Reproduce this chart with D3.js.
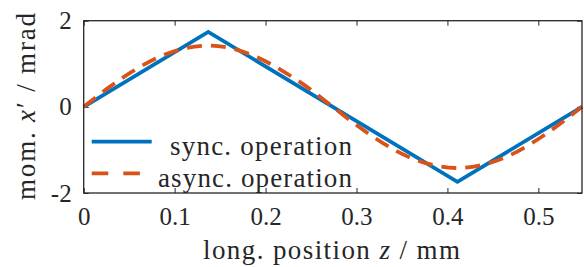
<!DOCTYPE html>
<html>
<head>
<meta charset="utf-8">
<script src="https://cdn.jsdelivr.net/npm/d3@7"></script>
<style>
  body { margin: 0; background: #fff; }
  text { font-family: "Liberation Serif", "DejaVu Serif", serif; fill: #262626; }
</style>
</head>
<body>
<div id="chart"></div>
<script>
// 数据
var syncZ = [0, 0.137, 0.411, 0.548]
var syncV = [0, 1.74, -1.74, 0]
var asyncZ = [0, 0.027, 0.055, 0.082, 0.110, 0.137, 0.164, 0.192, 0.219, 0.247, 0.274,
              0.301, 0.329, 0.356, 0.384, 0.411, 0.438, 0.466, 0.493, 0.521, 0.548]
var asyncV = [0, 0.44, 0.84, 1.15, 1.35, 1.42, 1.35, 1.14, 0.83, 0.44, 0.0,
              -0.44, -0.84, -1.15, -1.35, -1.42, -1.35, -1.15, -0.84, -0.44, 0]
var xTicks = [0, 0.1, 0.2, 0.3, 0.4, 0.5]
var yTicks = [-2, 0, 2]
var seriesNames = ['sync. operation', 'async. operation']
var seriesColors = ['#0072BD', '#D95319']

var W = 584, H = 267
var margin = {top: 20.7, right: 2, bottom: 74, left: 83.7}
var width = W - margin.left - margin.right
var height = H - margin.top - margin.bottom

var svg = d3.select('#chart').append('svg')
  .attr('width', W).attr('height', H)

var g = svg.append('g')
  .attr('transform', 'translate(' + margin.left + ',' + margin.top + ')')

var x = d3.scaleLinear().domain([0, 0.548]).range([0, width])
var y = d3.scaleLinear().domain([-2, 2]).range([height, 0])

// 坐标轴
function styleAxis(sel, showText) {
  sel.select('.domain').remove()
  sel.selectAll('.tick line').attr('stroke', '#262626').attr('stroke-width', 1)
  if (!showText) sel.selectAll('.tick text').remove()
  else sel.selectAll('.tick text').attr('font-size', '25px').attr('fill', '#262626')
}
g.append('g').attr('transform', 'translate(0,' + height + ')')
  .call(d3.axisBottom(x).tickValues(xTicks).tickSize(-5).tickPadding(14)
    .tickFormat(function(d) { return d === 0 ? '0' : d3.format('.1f')(d) }))
  .call(function(s) { styleAxis(s, true) })
  .selectAll('.tick text').attr('dy', '0.71em')
g.append('g')
  .call(d3.axisTop(x).tickValues(xTicks).tickSize(-5))
  .call(function(s) { styleAxis(s, false) })
g.append('g')
  .call(d3.axisLeft(y).tickValues(yTicks).tickSize(-5).tickPadding(12)
    .tickFormat(function(d) { return String(d) }))
  .call(function(s) { styleAxis(s, true) })
g.append('g').attr('transform', 'translate(' + width + ',0)')
  .call(d3.axisRight(y).tickValues(yTicks).tickSize(-5))
  .call(function(s) { styleAxis(s, false) })

// 折线
var line = d3.line()
  .x(function(d) { return x(d[0]) })
  .y(function(d) { return y(d[1]) })

g.append('path')
  .datum(syncZ.map(function(z, i) { return [z, syncV[i]] }))
  .attr('fill', 'none').attr('stroke', seriesColors[0])
  .attr('stroke-width', 3.8).attr('stroke-linejoin', 'miter')
  .attr('d', line)

g.append('path')
  .datum(asyncZ.map(function(z, i) { return [z, asyncV[i]] }))
  .attr('fill', 'none').attr('stroke', seriesColors[1])
  .attr('stroke-width', 3.8).attr('stroke-dasharray', '15,9')
  .attr('d', d3.line().curve(d3.curveMonotoneX)
    .x(function(d) { return x(d[0]) })
    .y(function(d) { return y(d[1]) }))

// 外框
g.append('rect')
  .attr('width', width).attr('height', height)
  .attr('fill', 'none').attr('stroke', '#262626').attr('stroke-width', 1.3)

// 图例
var legendWidths = [182, 194]
var legend = svg.append('g')
seriesNames.forEach(function(name, i) {
  var ly = 141.7 + i * 31.6
  legend.append('line')
    .attr('x1', 91.7).attr('x2', 151.7).attr('y1', ly).attr('y2', ly)
    .attr('stroke', seriesColors[i]).attr('stroke-width', 3.8)
    .attr('stroke-dasharray', i === 1 ? '16.6,15' : null)
  legend.append('text')
    .attr('x', 352 - legendWidths[i]).attr('y', ly + 5).attr('dy', '0.32em')
    .attr('font-size', '27px')
    .attr('textLength', legendWidths[i]).attr('lengthAdjust', 'spacing')
    .text(name)
})

// 轴标题
var xl = svg.append('text')
  .attr('x', 203).attr('y', 259)
  .attr('font-size', '27px')
  .attr('textLength', 257).attr('lengthAdjust', 'spacing')
xl.append('tspan').text('long. position ')
xl.append('tspan').attr('font-style', 'italic').text('z')
xl.append('tspan').text(' / mm')

var yl = svg.append('text')
  .attr('transform', 'translate(35,200) rotate(-90)')
  .attr('font-size', '27px')
  .attr('textLength', 187).attr('lengthAdjust', 'spacing')
yl.append('tspan').text('mom. ')
yl.append('tspan').attr('font-style', 'italic').text('x')
yl.append('tspan').text('′ / mrad')
</script>
</body>
</html>
